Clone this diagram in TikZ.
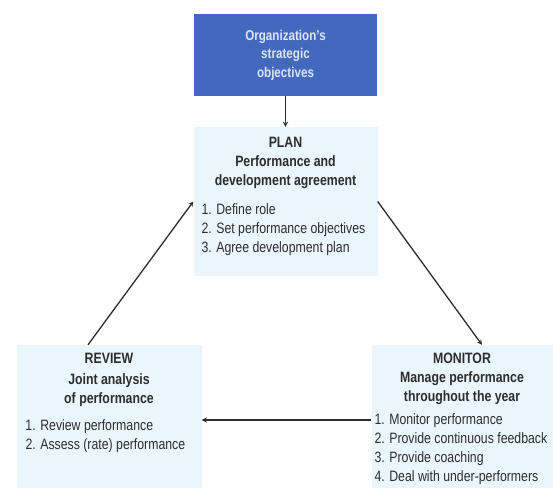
\documentclass[tikz,border=0pt]{standalone}
\usepackage{fontspec}
\setmainfont{Liberation Sans}[FakeStretch=0.82]
\usepackage{tikz}
\usetikzlibrary{arrows}
\definecolor{orgblue}{RGB}{66,105,190}
\definecolor{paleblue}{RGB}{234,246,252}
\definecolor{inkgray}{RGB}{45,45,45}
\tikzstyle{goal} = [rectangle, minimum width=183pt, minimum height=82pt, inner sep=0pt, align=center, fill=orgblue, text=white!82!orgblue, font=\fontsize{14.2}{18.5}\selectfont\bfseries]
\tikzstyle{stage} = [rectangle, inner sep=0pt, fill=paleblue, text=inkgray]
\tikzstyle{arrow} = [line width=1.3pt,->,>=stealth, draw=inkgray]

\begin{document}
\begin{tikzpicture}[node distance=2cm, font=\fontsize{15}{19}\selectfont]
\useasboundingbox (0,0) rectangle (553pt,-488pt);

\node (org) [goal] at (285.5pt,-55pt) {Organization’s\\strategic\\objectives};

\node (plan) [stage, below of=org, node distance=146.5pt] {\parbox[c][149pt][t]{184pt}{\vspace*{10pt}%
{\centering\bfseries PLAN\\ Performance and\\ development agreement\par}%
\vspace{10pt}\leftskip=8pt
1. Define role\\
2. Set performance objectives\\
3. Agree development plan}};
\node (review) [stage, below of=plan, node distance=215pt, xshift=-176.5pt] {\parbox[c][143pt][t]{185pt}{\vspace*{8pt}%
{\centering\bfseries REVIEW\\[2pt] Joint analysis\\ of performance\par}%
\vspace{8pt}\leftskip=9pt
1. Review performance\\
2. Assess (rate) performance}};
\node (monitor) [stage, below of=plan, node distance=215pt, xshift=176.5pt] {\parbox[c][143pt][t]{181pt}{\vspace*{8pt}%
{\centering\bfseries MONITOR\\ Manage performance\\ throughout the year\par}%
\vspace{4pt}\leftskip=3pt
1. Monitor performance\\
2. Provide continuous feedback\\
3. Provide coaching\\
4. Deal with under-performers}};

\draw [arrow] (org) -- (plan);
\draw [arrow] (plan.east) -- ([xshift=20pt]monitor.north);
\draw [arrow] ([yshift=-3.5pt]monitor.west) -- ([yshift=-3.5pt]review.east);
\draw [arrow] ([xshift=-21pt]review.north) -- (plan.west);
\end{tikzpicture}
\end{document}
